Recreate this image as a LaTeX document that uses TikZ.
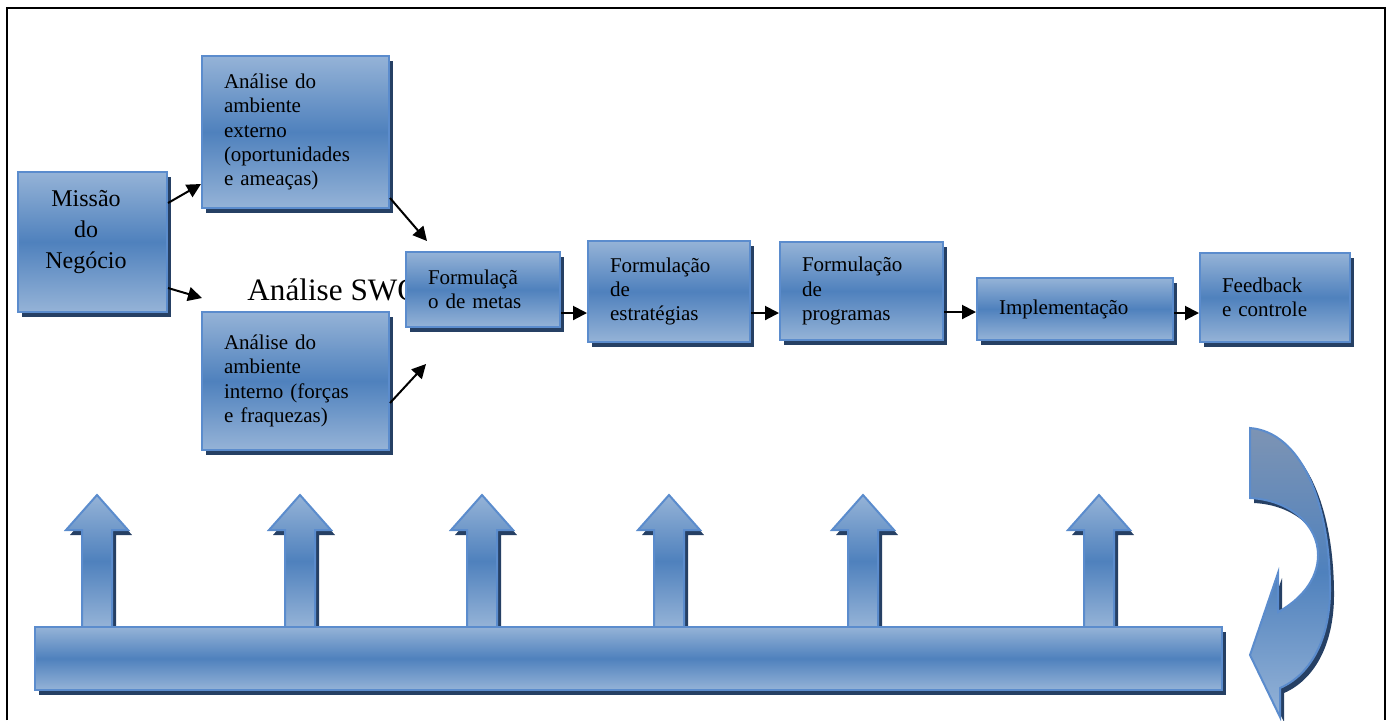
\documentclass[tikz,border=0pt]{standalone}
\usepackage{fontspec}
\setmainfont{Liberation Serif}
\usetikzlibrary{arrows.meta,shadows}

\definecolor{boxlight}{RGB}{149,179,215}
\definecolor{boxmid}{RGB}{79,129,189}
\definecolor{boxedge}{RGB}{91,140,205}
\definecolor{boxshade}{RGB}{38,64,100}
\definecolor{curvetop}{RGB}{125,148,180}

\begin{document}
\begin{tikzpicture}[%
    x=0.5pt, y=-0.5pt,          % one unit is one pixel of the sketch, y downwards
    >={Triangle[length=7pt,width=7pt]}, % Filled arrow heads
    every node/.style={inner sep=0pt},
    ]
% -------------------------------------------------
% Box and arrow styles
\tikzset{
  plate/.style={draw=boxedge, line width=1pt,
    top color=boxlight, bottom color=boxlight, middle color=boxmid,
    drop shadow={shadow xshift=2pt, shadow yshift=-2.5pt,
      fill=boxshade, opacity=1}},
  base/.style={plate, rectangle},
  proc/.style={base, align=left, inner xsep=11pt,
    font=\fontsize{10.5}{12.2}\selectfont},
  curve/.style={plate, top color=curvetop, middle color=boxmid},
  % Connector line style
  norm/.style={->, draw, line width=1pt},
}
\useasboundingbox (0,0) rectangle (1390,720);
\draw[line width=1pt] (7,720) -- (7,8) -- (1385,8) -- (1385,720);
% -------------------------------------------------
% Text behind the first box of the row
\node[anchor=base west, font=\fontsize{15.6}{18}\selectfont] (swot) at (247,300)
  {Análise SWOT};
% -------------------------------------------------
% The boxes
\node[base, minimum width=74.5pt, minimum height=70pt] (missao) at (92.5,242) {};
\node[align=center, font=\fontsize{12}{15.5}\selectfont] (missaotxt)
  at (86,232) {Missão\\do\\Negócio};
\node[proc, text width=71.5pt, minimum height=76pt] (ext) at (295.5,132)
  {Análise do\\ambiente\\externo\\(oportunidades\\e ameaças)};
\node[proc, text width=71.5pt, minimum height=69pt] (int) at (295.5,381)
  {Análise do\\ambiente\\interno (forças\\e fraquezas)};
\node[proc, text width=55pt, minimum height=37.5pt] (metas) at (483,289.5)
  {Formulaçã\\o de metas};
\node[proc, text width=59pt, minimum height=50.5pt] (estr) at (669,291.5)
  {Formulação\\de\\estratégias};
\node[proc, text width=59.5pt, minimum height=49pt] (prog) at (861.5,291)
  {Formulação\\de\\programas};
\node[proc, text width=76pt, minimum height=31pt] (impl) at (1075,309)
  {Implementação};
\node[proc, text width=53pt, minimum height=44.5pt] (feed) at (1275,297.5)
  {Feedback\\e controle};
% -------------------------------------------------
% Connectors
\coordinate (c1) at (202,298);
\coordinate (c2) at (427,241);
\coordinate (c3) at (426,364);
\draw[norm] (missao.east |- 0,203) -- (ext.west |- 0,184);
\draw[norm] (missao.east |- 0,288) -- (c1);
\draw[norm] (ext.east |- 0,198) -- (c2);
\draw[norm] (int.east |- 0,403) -- (c3);
\draw[norm] (metas.east |- 0,313) -- (estr.west |- 0,313);
\draw[norm] (estr.east |- 0,313) -- (prog.west |- 0,313);
\draw[norm] (prog.east |- 0,312) -- (impl.west |- 0,312);
\draw[norm] (impl.east |- 0,313) -- (feed.west |- 0,313);
% -------------------------------------------------
% Bottom bar with its up arrows
\foreach \c in {97,300,482,669,863,1099}
  \draw[plate] (\c-15,627) -- (\c-15,530) -- (\c-31,530) -- (\c,495)
    -- (\c+31,530) -- (\c+15,530) -- (\c+15,627) -- cycle;
\draw[plate] (35,627) rectangle (1222,690);
% Curved arrow back to the start
\draw[curve] (1250,428) .. controls (1300,432) and (1330,500) .. (1330,590)
  .. controls (1330,640) and (1310,675) .. (1280,688)
  -- (1280,717) -- (1250,655) -- (1278,573) -- (1278,612)
  .. controls (1300,600) and (1318,580) .. (1318,555)
  .. controls (1318,525) and (1290,500) .. (1250,498) -- cycle;
\end{tikzpicture}
\end{document}
